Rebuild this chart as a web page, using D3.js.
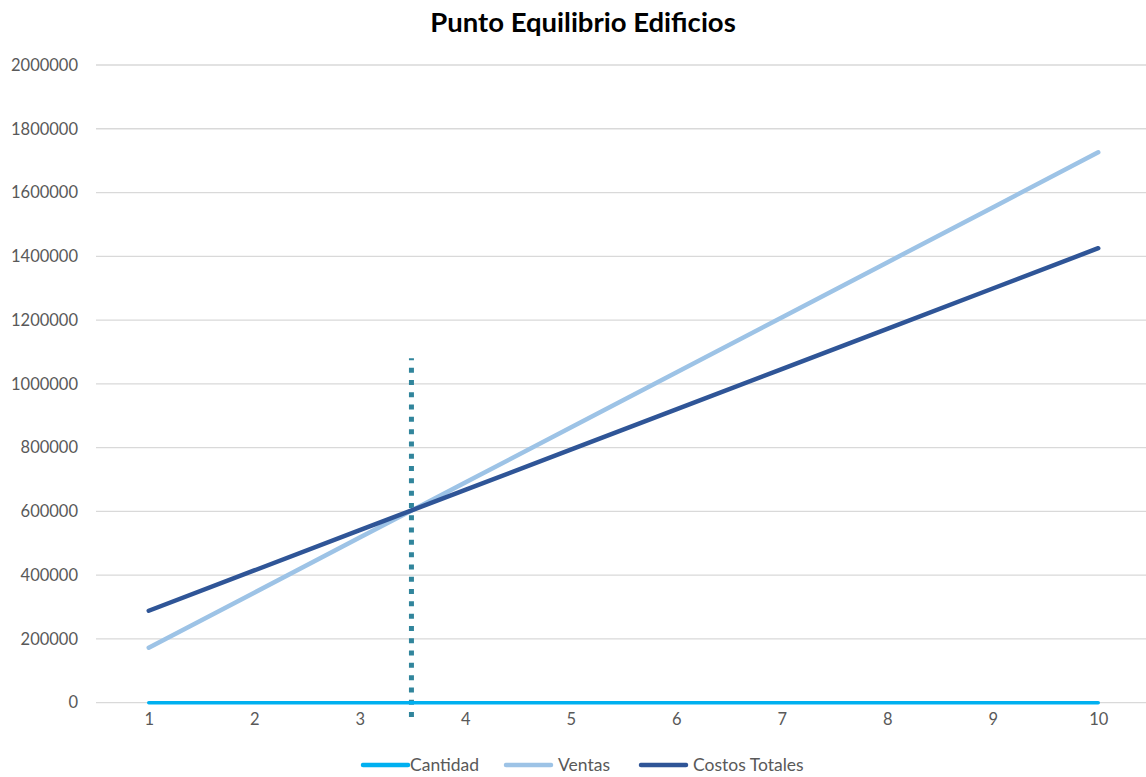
<!DOCTYPE html>
<html>
<head>
<meta charset="utf-8">
<script src="https://cdn.jsdelivr.net/npm/d3@7"></script>
<style>
  body { margin: 0; background: #fff; }
  text { font-family: Lato, "Open Sans", sans-serif; }
</style>
</head>
<body>
<div id="chart"></div>
<script>
// values
var cantidad = [1, 2, 3, 4, 5, 6, 7, 8, 9, 10];
var ventas = [172600, 345200, 517800, 690400, 863000, 1035600, 1208200, 1380800, 1553400, 1726000];
var costosTotales = [288400, 414700, 541100, 667400, 793700, 920000, 1046400, 1172700, 1299000, 1425400];
var yTicks = [0, 200000, 400000, 600000, 800000, 1000000, 1200000, 1400000, 1600000, 1800000, 2000000];
// vertical break-even marker
var equilibrioX = [3.49, 3.49];
var equilibrioY = [-45000, 1080000];

var width = 1146, height = 777;
var margin = { top: 65, right: 0, bottom: 74, left: 96 };

var svg = d3.select('#chart')
            .append('svg')
            .attr('width', width)
            .attr('height', height);

// category n sits in the middle of its band (band = 105.5px)
var x = d3.scaleLinear()
          .domain([0.5, 10.5])
          .range([margin.left, margin.left + 1055]);

var y = d3.scaleLinear()
          .domain([0, 2000000])
          .range([height - margin.bottom - 0.3, margin.top]);

// gridlines
svg.append('g')
   .selectAll('line')
   .data(yTicks)
   .enter().append('line')
   .attr('x1', margin.left)
   .attr('x2', width)
   .attr('y1', function(d) { return y(d); })
   .attr('y2', function(d) { return y(d); })
   .attr('stroke', '#d9d9d9')
   .attr('stroke-width', 1.3);

// y labels
var yAxis = svg.append('g')
   .attr('transform', 'translate(' + (margin.left - 18) + ',0)')
   .call(d3.axisLeft(y).tickValues(yTicks).tickSize(0).tickPadding(0).tickFormat(d3.format('d')));
yAxis.select('.domain').remove();
yAxis.selectAll('text')
     .attr('fill', '#595959')
     .style('font-size', '16.5px')
     .style('font-family', 'Lato, sans-serif');

// x labels
var xAxis = svg.append('g')
   .attr('transform', 'translate(0,' + y(0) + ')')
   .call(d3.axisBottom(x).tickValues(cantidad).tickSize(0).tickPadding(11).tickFormat(d3.format('d')));
xAxis.select('.domain').remove();
xAxis.selectAll('text')
     .attr('fill', '#595959')
     .style('font-size', '16.5px')
     .style('font-family', 'Lato, sans-serif');

var series = [
  { name: 'Cantidad', values: cantidad, color: '#00b0f0', w: 3.5 },
  { name: 'Ventas', values: ventas, color: '#9dc3e6', w: 4.5 },
  { name: 'Costos Totales', values: costosTotales, color: '#2f5597', w: 4.5 }
];

var line = d3.line()
             .x(function(d, i) { return x(cantidad[i]); })
             .y(function(d) { return y(d); });

// break-even dotted marker
svg.append('path')
   .datum(equilibrioY)
   .attr('d', d3.line()
     .x(function(d, i) { return x(equilibrioX[i]); })
     .y(function(d) { return y(d); }))
   .attr('stroke', '#31859c')
   .attr('stroke-width', 5)
   .attr('stroke-dasharray', '5 7.3')
   .attr('fill', 'none');

series.forEach(function(s) {
  svg.append('path')
     .datum(s.values)
     .attr('d', line)
     .attr('fill', 'none')
     .attr('stroke', s.color)
     .attr('stroke-width', s.w)
     .attr('stroke-linecap', 'round')
     .attr('stroke-linejoin', 'round');
});

// title
svg.append('text')
   .attr('x', 583)
   .attr('y', 32)
   .attr('text-anchor', 'middle')
   .style('font-size', '27.5px')
   .style('font-weight', 'bold')
   .attr('fill', '#000')
   .text('Punto Equilibrio Edificios');

// legend
var legendX = [363, 506, 641];
var legend = svg.append('g');
series.forEach(function(s, i) {
  legend.append('line')
        .attr('x1', legendX[i])
        .attr('x2', legendX[i] + 45)
        .attr('y1', 765)
        .attr('y2', 765)
        .attr('stroke', s.color)
        .attr('stroke-width', 4.5)
        .attr('stroke-linecap', 'round');
  legend.append('text')
        .attr('x', legendX[i] + (i === 0 ? 47 : 52))
        .attr('y', 771)
        .attr('fill', '#595959')
        .style('font-size', '17.5px')
        .text(s.name);
});
</script>
</body>
</html>
